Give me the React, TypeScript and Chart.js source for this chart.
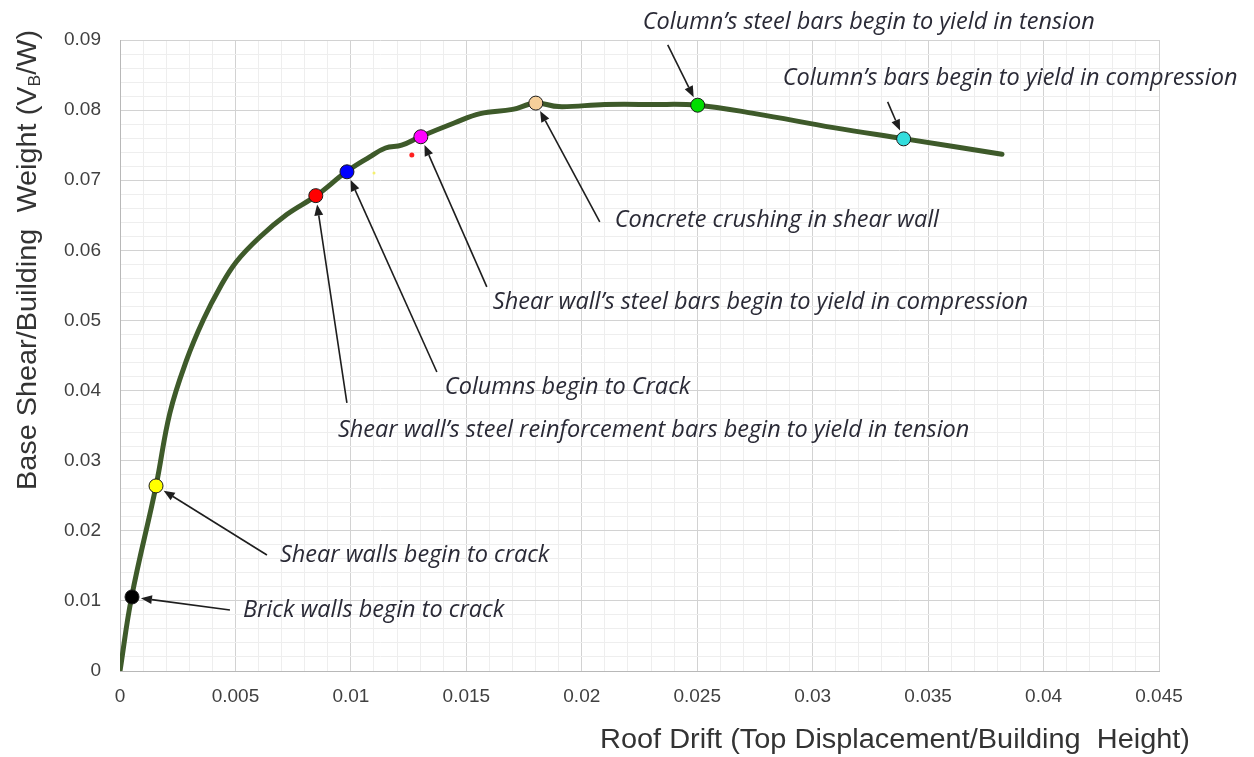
import React, { useEffect, useRef } from 'react';
import Chart from 'chart.js/auto';

// Pushover curve (roof drift vs base shear / weight)
const curveX = [0, 0.0005, 0.00156, 0.00216, 0.00289, 0.00361, 0.00433, 0.00505, 0.00606, 0.00722, 0.0085, 0.0098, 0.0108, 0.0115, 0.0122, 0.013, 0.0145, 0.0156, 0.017, 0.018, 0.019, 0.021, 0.023, 0.025, 0.0275, 0.0309, 0.034, 0.0382];
const curveY = [0, 0.0105, 0.0264, 0.0368, 0.0444, 0.0501, 0.0547, 0.0584, 0.0619, 0.0651, 0.0678, 0.0712, 0.0733, 0.0746, 0.0750, 0.0762, 0.0782, 0.0795, 0.0801, 0.0810, 0.0805, 0.0808, 0.0808, 0.0807, 0.0795, 0.0775, 0.0759, 0.0737];

// Damage events
const eventNames = [
  'Brick walls begin to crack',
  'Shear walls begin to crack',
  'Shear wall\u2019s steel reinforcement bars begin to yield in tension',
  'Columns begin to Crack',
  'Shear wall\u2019s steel bars begin to yield in compression',
  'Concrete crushing in shear wall',
  'Column\u2019s steel bars begin to yield in tension',
  'Column\u2019s bars begin to yield in compression',
];
const eventX = [0.00052, 0.00156, 0.00848, 0.00983, 0.01303, 0.01801, 0.02502, 0.03394];
const eventY = [0.01056, 0.0264, 0.0678, 0.0712, 0.0762, 0.0810, 0.0807, 0.0759];
const eventColors = ['#000000', '#ffff00', '#ff0000', '#0000ff', '#ff00ff', '#f5cf9a', '#00dd00', '#33dddd'];

// Label anchors (left edge, middle) and arrow tails, in data units
const labelX = [0.005325, 0.006926, 0.009437, 0.014069, 0.016147, 0.021429, 0.02264, 0.0287];
const labelY = [0.0087, 0.01655, 0.03438, 0.04051, 0.05264, 0.06434, 0.09258, 0.08459];
const tailX = [0.004762, 0.006364, 0.009827, 0.013723, 0.015887, 0.020779, 0.023723, 0.033247];
const tailY = [0.0087, 0.01655, 0.03823, 0.04265, 0.05478, 0.06405, 0.0893, 0.08117];

// stray small dots
const strayX = [0.01264, 0.011];
const strayY = [0.0736, 0.07104];
const strayColors = ['#ff2020', '#f4f070'];

const xTickValues = [0, 0.005, 0.01, 0.015, 0.02, 0.025, 0.03, 0.035, 0.04, 0.045];
const xTickLabels = ['0', '0.005', '0.01', '0.015', '0.02', '0.025', '0.03', '0.035', '0.04', '0.045'];
const yTickValues = [0, 0.01, 0.02, 0.03, 0.04, 0.05, 0.06, 0.07, 0.08, 0.09];
const yTickLabels = ['0', '0.01', '0.02', '0.03', '0.04', '0.05', '0.06', '0.07', '0.08', '0.09'];
const minorDivisions = 5;

const xTitle = 'Roof Drift (Top Displacement/Building  Height)';

const TICK_FONT = '"Liberation Sans", Arial, sans-serif';
const NOTE_FONT = 'italic 23.5px "Open Sans", sans-serif';

function buildTicks(majors: number[]) {
  const out: { value: number; major: boolean }[] = [];
  for (let i = 0; i < majors.length; i++) {
    out.push({ value: majors[i], major: true });
    if (i < majors.length - 1) {
      const step = (majors[i + 1] - majors[i]) / minorDivisions;
      for (let k = 1; k < minorDivisions; k++) out.push({ value: majors[i] + step * k, major: false });
    }
  }
  return out;
}

function labelFor(values: number[], labels: string[], v: number) {
  for (let i = 0; i < values.length; i++) if (Math.abs(values[i] - v) < 1e-9) return labels[i];
  return '';
}

const annotationPlugin = {
  id: 'annotations',
  afterDraw(chart: any) {
    const ctx = chart.ctx;
    const xs = chart.scales.x;
    const ys = chart.scales.y;
    ctx.save();
    // arrows
    ctx.strokeStyle = '#1e1e1e';
    ctx.fillStyle = '#1e1e1e';
    ctx.lineWidth = 1.6;
    for (let i = 0; i < eventX.length; i++) {
      const mx = xs.getPixelForValue(eventX[i]);
      const my = ys.getPixelForValue(eventY[i]);
      const tx = xs.getPixelForValue(tailX[i]);
      const ty = ys.getPixelForValue(tailY[i]);
      const dx = tx - mx;
      const dy = ty - my;
      const len = Math.hypot(dx, dy);
      const ux = dx / len;
      const uy = dy / len;
      const hx = mx + ux * 9;
      const hy = my + uy * 9;
      const headLen = 11;
      const bx = hx + ux * headLen;
      const by = hy + uy * headLen;
      ctx.beginPath();
      ctx.moveTo(tx, ty);
      ctx.lineTo(bx, by);
      ctx.stroke();
      ctx.beginPath();
      ctx.moveTo(hx, hy);
      ctx.lineTo(bx - uy * 4.5, by + ux * 4.5);
      ctx.lineTo(bx + uy * 4.5, by - ux * 4.5);
      ctx.closePath();
      ctx.fill();
    }
    // labels
    ctx.font = NOTE_FONT;
    ctx.fillStyle = '#2a2a36';
    ctx.textAlign = 'left';
    ctx.textBaseline = 'middle';
    for (let i = 0; i < eventNames.length; i++) {
      ctx.fillText(eventNames[i], xs.getPixelForValue(labelX[i]), ys.getPixelForValue(labelY[i]));
    }

    // x title
    ctx.fillStyle = '#333333';
    ctx.font = '27px "Liberation Sans", Arial, sans-serif';
    ctx.textAlign = 'center';
    ctx.textBaseline = 'middle';
    {
      const w = ctx.measureText(xTitle).width;
      const target = 590;
      ctx.save();
      ctx.translate(895, 741);
      ctx.scale(target / w, 1);
      ctx.fillText(xTitle, 0, 0);
      ctx.restore();
    }

    // y title with subscript
    {
      const parts = [
        { t: 'Base Shear/Building  Weight (V', f: '28px "Liberation Sans", Arial, sans-serif', dy: 0 },
        { t: 'B', f: '17px "Liberation Sans", Arial, sans-serif', dy: 7 },
        { t: '/W)', f: '28px "Liberation Sans", Arial, sans-serif', dy: 0 },
      ];
      let total = 0;
      const widths: number[] = [];
      for (const p of parts) {
        ctx.font = p.f;
        const w = ctx.measureText(p.t).width;
        widths.push(w);
        total += w;
      }
      const target = 460;
      ctx.save();
      ctx.translate(28, 260);
      ctx.rotate(-Math.PI / 2);
      ctx.scale(target / total, 1);
      ctx.textAlign = 'left';
      ctx.textBaseline = 'middle';
      let x = -total / 2;
      for (let i = 0; i < parts.length; i++) {
        ctx.font = parts[i].f;
        ctx.fillText(parts[i].t, x, parts[i].dy);
        x += widths[i];
      }
      ctx.restore();
    }
    ctx.restore();
  },
};

export default function App() {
  const ref = useRef<HTMLCanvasElement | null>(null);
  useEffect(() => {
    if (!ref.current) return;
    const xTicks = buildTicks(xTickValues);
    const yTicks = buildTicks(yTickValues);
    const chart = new Chart(ref.current, {
      type: 'scatter',
      data: {
        datasets: [
          {
            label: 'events',
            data: eventX.map((x, i) => ({ x, y: eventY[i] })),
            pointRadius: 7,
            pointHoverRadius: 7,
            pointBackgroundColor: eventColors,
            pointBorderColor: '#1a1a1a',
            pointBorderWidth: 1,
            showLine: false,
            order: 0,
          },
          {
            label: 'stray',
            data: strayX.map((x, i) => ({ x, y: strayY[i] })),
            pointRadius: [2.5, 1.5],
            pointBackgroundColor: strayColors,
            pointBorderWidth: 0,
            showLine: false,
            order: 1,
          },
          {
            label: 'curve',
            data: curveX.map((x, i) => ({ x, y: curveY[i] })),
            showLine: true,
            borderColor: '#3e5a2a',
            borderWidth: 5,
            pointRadius: 0,
            tension: 0.4,
            borderCapStyle: 'round',
            borderJoinStyle: 'round',
            order: 2,
          } as any,
        ],
      },
      options: {
        responsive: false,
        animation: false,
        devicePixelRatio: 1,
        layout: { padding: { top: 40, right: 95, left: 0, bottom: 0 } },
        plugins: { legend: { display: false }, tooltip: { enabled: false } },
        events: [],
        scales: {
          x: {
            type: 'linear',
            min: 0,
            max: 0.045,
            afterBuildTicks: (s: any) => { s.ticks = xTicks.map((t) => ({ value: t.value })); },
            afterFit: (s: any) => { s.height = 86; },
            ticks: {
              autoSkip: false,
              maxRotation: 0,
              padding: 14,
              color: '#404040',
              font: { family: TICK_FONT, size: 19 },
              callback: (v: any) => labelFor(xTickValues, xTickLabels, Number(v)),
            },
            grid: {
              drawTicks: false,
              color: (c: any) => (labelFor(xTickValues, xTickLabels, c.tick ? c.tick.value : -1) !== '' ? '#d2d2d2' : '#eeeeee'),
            },
            border: { color: '#b8b8b8', width: 1 },
          },
          y: {
            type: 'linear',
            min: 0,
            max: 0.09,
            afterBuildTicks: (s: any) => { s.ticks = yTicks.map((t) => ({ value: t.value })); },
            afterFit: (s: any) => { s.width = 120; },
            ticks: {
              autoSkip: false,
              padding: 19,
              color: '#404040',
              font: { family: TICK_FONT, size: 19 },
              callback: (v: any) => labelFor(yTickValues, yTickLabels, Number(v)),
            },
            grid: {
              drawTicks: false,
              color: (c: any) => (labelFor(yTickValues, yTickLabels, c.tick ? c.tick.value : -1) !== '' ? '#d2d2d2' : '#eeeeee'),
            },
            border: { color: '#b8b8b8', width: 1 },
          },
        },
      } as any,
      plugins: [annotationPlugin],
    });
    return () => chart.destroy();
  }, []);
  return (
    <div style={{ position: 'fixed', left: 0, top: 0, width: 1254, height: 757, background: '#ffffff' }}>
      <canvas ref={ref} width={1254} height={757} style={{ width: 1254, height: 757 }} />
    </div>
  );
}
